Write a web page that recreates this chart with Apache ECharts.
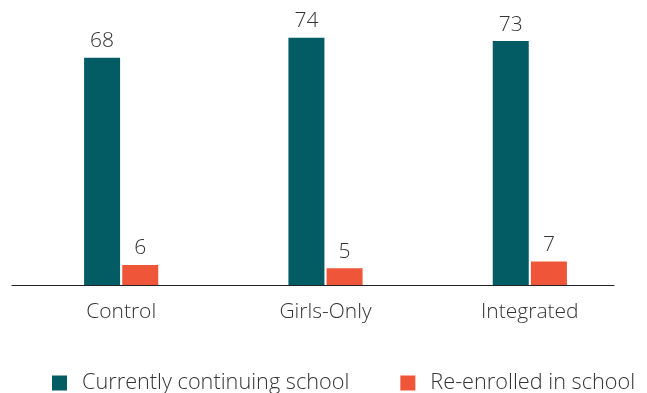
<!DOCTYPE html>
<html><head><meta charset="utf-8">
<script src="https://cdn.jsdelivr.net/npm/echarts@6/dist/echarts.min.js"></script>
<style>html,body{margin:0;padding:0;background:#fff}#c{width:647px;height:393px}</style>
</head><body><div id="c"></div>
<script>
const categories = ['Control', 'Girls-Only', 'Integrated'];
const continuing = [68, 74, 73];
const reenrolled = [6, 5, 7];
const seriesNames = ['Currently continuing school', 'Re-enrolled in school'];

const chart = echarts.init(document.getElementById('c'));
const font = '"Open Sans", "Noto Sans", sans-serif';
const lbl = {show: true, position: 'top', distance: 6, color: '#333', fontSize: 21, fontFamily: font, fontWeight: 300};
chart.setOption({
  animation: false,
  textStyle: {fontFamily: font},
  legend: {
    top: 367, left: 47, itemWidth: 15, itemHeight: 15, itemGap: 51,
    icon: 'rect',
    textStyle: {fontSize: 21.7, color: '#333', fontFamily: font, fontWeight: 300, padding: [0,0,0,10]},
    data: seriesNames
  },
  grid: [
    {left: 19, right: 15, top: 11, bottom: 108},
    {left: 12, right: 33, top: 11, bottom: 108}
  ],
  xAxis: [
    {type: 'category', data: categories, gridIndex: 0,
     axisLine: {show: false}, axisTick: {show: false},
     axisLabel: {fontSize: 21, color: '#333', fontFamily: font, fontWeight: 300, margin: 17}},
    {type: 'category', data: categories, gridIndex: 1,
     axisLine: {show: true, lineStyle: {color: '#222', width: 1}}, axisTick: {show: false}, axisLabel: {show: false}}
  ],
  yAxis: [
    {type: 'value', min: 0, max: 82, gridIndex: 0, show: false, splitLine: {show: false}},
    {type: 'value', min: 0, max: 82, gridIndex: 1, show: false, splitLine: {show: false}}
  ],
  series: [
    {name: seriesNames[0], type: 'bar', data: continuing, barWidth: 36, barGap: '6%',
     itemStyle: {color: '#035B64'}, label: lbl},
    {name: seriesNames[1], type: 'bar', data: reenrolled, barWidth: 36, barGap: '6%',
     itemStyle: {color: '#EE5539'}, label: lbl}
  ]
});
</script></body></html>
